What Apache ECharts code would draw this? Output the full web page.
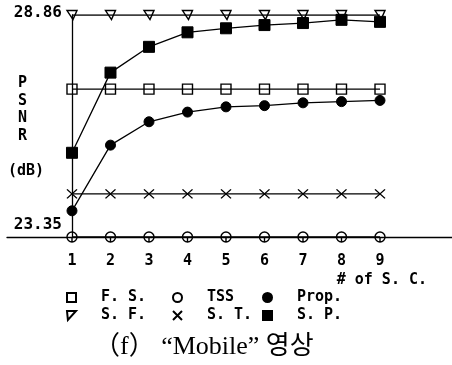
<!DOCTYPE html>
<html><head><meta charset="utf-8">
<script src="https://cdn.jsdelivr.net/npm/echarts@6/dist/echarts.min.js"></script>
<style>html,body{margin:0;padding:0;background:#fff}#c{width:452px;height:365px}</style>
</head><body><div id="c"></div>
<script>
const xValues = [1, 2, 3, 4, 5, 6, 7, 8, 9];
const xTickLabels = ['1', '2', '3', '4', '5', '6', '7', '8', '9'];
const yTickValues = [23.35, 28.86];
const fsVals   = [27.02, 27.02, 27.02, 27.02, 27.02, 27.02, 27.02, 27.02, 27.02];
const tssVals  = [23.35, 23.35, 23.35, 23.35, 23.35, 23.35, 23.35, 23.35, 23.35];
const propVals = [24.00, 25.63, 26.21, 26.45, 26.58, 26.61, 26.68, 26.71, 26.74];
const sfVals   = [28.86, 28.86, 28.86, 28.86, 28.86, 28.86, 28.86, 28.86, 28.86];
const stVals   = [24.42, 24.42, 24.42, 24.42, 24.42, 24.42, 24.42, 24.42, 24.42];
const spVals   = [25.44, 27.43, 28.07, 28.43, 28.53, 28.61, 28.66, 28.74, 28.69];
const seriesNames = ['F. S.', 'TSS', 'Prop.', 'S. F.', 'S. T.', 'S. P.'];

const MONO = '"DejaVu Sans Mono", monospace';
const TRI = 'path://M0,0 L10,0 L6,9 Z';
const TRI_LEG = 'path://M0,0 L10,0 L1,10 Z';
const XMARK = 'path://M0,0 L10,10 M10,0 L0,10';
const TSSMARK = 'path://M0,5 A5,5 0 1 1 10,5 A5,5 0 1 1 0,5 Z M5,5 L5,10';
const legendIcons = ['rect', 'circle', 'circle', TRI_LEG, XMARK, 'rect'];

function pairs(vals) { return xValues.map((x, i) => [x, vals[i]]); }
function mk(name, vals, symbol, size, filled) {
  return {
    name, type: 'line', data: pairs(vals), symbol, symbolSize: size,
    showAllSymbol: true, animation: false, z: 3,
    lineStyle: { color: '#000', width: 1.3 },
    itemStyle: filled ? { color: '#000', borderColor: '#000', borderWidth: 1 }
                      : { color: 'rgba(255,255,255,0)', borderColor: '#000', borderWidth: 1.4 },
    emphasis: { disabled: true }
  };
}

const series = [
  mk(seriesNames[0], fsVals, 'rect', [10, 10], false),
  mk(seriesNames[1], tssVals, TSSMARK, [10, 10], false),
  mk(seriesNames[2], propVals, 'circle', 10, true),
  mk(seriesNames[3], sfVals, TRI, [10, 9], false),
  mk(seriesNames[4], stVals, XMARK, [10, 9], false),
  mk(seriesNames[5], spVals, 'rect', [11, 11], true)
];

const legendPos = [[66, 290], [172, 290], [262, 290], [66, 308], [172, 308], [262, 308]];
const legends = seriesNames.map((n, i) => ({
  data: [{ name: n, icon: legendIcons[i] }], left: legendPos[i][0], top: legendPos[i][1],
  itemWidth: 9, itemHeight: 9, itemGap: 0, padding: 0,
  selectedMode: false,
  textStyle: { fontFamily: MONO, fontWeight: 'bold', fontSize: 15, color: '#000', padding: [0, 0, 0, 20] }
}));

const chart = echarts.init(document.getElementById('c'), null, { renderer: 'canvas' });
chart.setOption({
  animation: false,
  backgroundColor: '#fff',
  grid: { left: 7, right: 0, top: 15, bottom: 128, containLabel: false },
  title: [
    { text: 'P\nS\nN\nR', left: 18, top: 74, padding: 0,
      textStyle: { fontFamily: MONO, fontWeight: 'bold', fontSize: 15, lineHeight: 17.8, color: '#000' } },
    { text: '(dB)', left: 8, top: 164, padding: 0,
      textStyle: { fontFamily: MONO, fontWeight: 'bold', fontSize: 15, color: '#000' } },
    { text: '\uff08f\uff09 \u201cMobile\u201d \uc601\uc0c1', left: 94, top: 334, padding: 0,
      textStyle: { fontFamily: '"Liberation Serif", "Noto Sans CJK KR", serif', fontWeight: 'normal', fontSize: 26, color: '#000' } }
  ],
  legend: legends,
  xAxis: {
    type: 'value', min: -0.688, max: 10.87,
    splitLine: { show: false },
    axisLine: { lineStyle: { color: '#000', width: 1.3 }, onZero: false },
    axisTick: { show: false },
    axisLabel: {
      customValues: xValues, margin: 17, color: '#000',
      fontFamily: MONO, fontWeight: 'bold', fontSize: 15,
      formatter: v => xTickLabels[xValues.indexOf(v)] || ''
    },
    name: '# of S. C.', nameLocation: 'end', nameGap: -25,
    nameTextStyle: { fontFamily: MONO, fontWeight: 'bold', fontSize: 15, color: '#000',
      align: 'right', verticalAlign: 'top', padding: [36, 0, 0, 0] }
  },
  yAxis: {
    type: 'value', min: 23.35, max: 28.86, offset: -65,
    splitLine: { show: false },
    axisLine: { show: true, onZero: false, lineStyle: { color: '#000', width: 1.3 } },
    axisTick: { show: false },
    axisLabel: {
      customValues: yTickValues, margin: 10, color: '#000',
      fontFamily: MONO, fontWeight: 'bold', fontSize: 16,
      formatter: v => (v === yTickValues[0] ? '{b|' : '{a|') + v.toFixed(2) + '}',
      rich: {
        a: { fontFamily: MONO, fontWeight: 'bold', fontSize: 16, color: '#000', padding: [0, 0, 4, 0] },
        b: { fontFamily: MONO, fontWeight: 'bold', fontSize: 16, color: '#000', padding: [0, 0, 24, 0] }
      }
    }
  },
  series
});
</script></body></html>
